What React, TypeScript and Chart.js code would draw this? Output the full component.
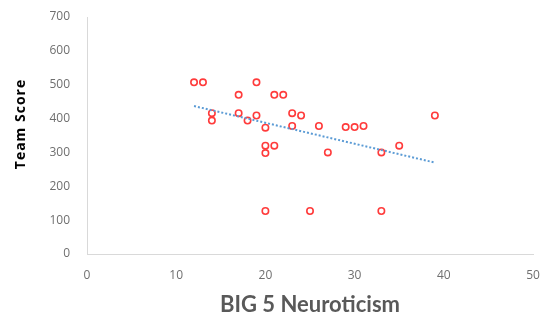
import React, { useEffect, useRef } from "react";
import { Chart, registerables } from "chart.js";

Chart.register(...registerables);

const neuroticism = [12, 13, 19, 17, 21, 22, 14, 14, 17, 18, 19, 23, 24, 20, 23, 20, 21, 20, 26, 29, 30, 31, 39, 35, 27, 33, 20, 25, 33];
const teamScore = [507, 507, 507, 470, 470, 470, 416, 394, 416, 394, 409, 416, 409, 373, 378, 320, 320, 298, 378, 375, 375, 378, 409, 320, 300, 300, 127, 127, 127];
const trendX = [12, 39];
const trendY = [437, 270];

const xTitle = "BIG 5 Neuroticism";
const yTitle = "Team Score";

const titlePlugin = {
  id: "titles",
  afterDraw(chart: any) {
    const { ctx, chartArea } = chart;
    ctx.save();
    ctx.fillStyle = "#595959";
    ctx.font = "bold 22px Lato";
    ctx.textAlign = "center";
    ctx.textBaseline = "alphabetic";
    ctx.fillText(xTitle, (chartArea.left + chartArea.right) / 2, 312);
    ctx.translate(21, 124);
    ctx.rotate(-Math.PI / 2);
    ctx.fillStyle = "#000000";
    ctx.font = "bold 14px 'Open Sans'";
    ctx.textBaseline = "middle";
    try {
      (ctx as any).letterSpacing = "1px";
    } catch (e) {}
    ctx.fillText(yTitle, 0, 0);
    ctx.restore();
  },
};

export default function App() {
  const ref = useRef<HTMLCanvasElement>(null);
  useEffect(() => {
    if (!ref.current) return;
    const points = neuroticism.map((x, i) => ({ x, y: teamScore[i] }));
    const trend = trendX.map((x, i) => ({ x, y: trendY[i] }));
    const chart = new Chart(ref.current, {
      type: "scatter",
      data: {
        datasets: [
          {
            data: points,
            pointStyle: "circle",
            pointRadius: 3.2,
            pointBorderWidth: 1.6,
            borderColor: "#ff3b3b",
            backgroundColor: "rgba(255,255,255,0)",
            pointBackgroundColor: "rgba(255,255,255,0)",
            pointBorderColor: "#ff3b3b",
            order: 2,
          } as any,
          {
            data: trend,
            showLine: true,
            borderColor: "#5b9bd5",
            borderWidth: 2,
            borderDash: [2, 2],
            pointRadius: 0,
            fill: false,
            order: 1,
          } as any,
        ],
      },
      options: {
        animation: false,
        responsive: true,
        maintainAspectRatio: false,
        layout: { padding: { top: 17, right: 19, left: 0, bottom: 0 } },
        plugins: { legend: { display: false }, tooltip: { enabled: false } },
        scales: {
          x: {
            type: "linear",
            min: 0,
            max: 50,
            grid: { display: false },
            border: { display: true, color: "#d9d9d9", width: 1 },
            ticks: { stepSize: 10, padding: 6, color: "#6f6f6f", font: { family: "Open Sans", size: 12 } },
            afterFit(scale: any) {
              scale.height = 61;
            },
          },
          y: {
            min: 0,
            max: 700,
            grid: { display: false },
            border: { display: true, color: "#d9d9d9", width: 1 },
            ticks: { stepSize: 100, padding: 9, color: "#6f6f6f", font: { family: "Open Sans", size: 12 } },
            afterFit(scale: any) {
              scale.width = 87;
            },
          },
        },
      },
      plugins: [titlePlugin],
    });
    return () => chart.destroy();
  }, []);
  return (
    <div style={{ position: "absolute", left: 0, top: 0, width: 552, height: 315, background: "#fff" }}>
      <canvas ref={ref} />
    </div>
  );
}
